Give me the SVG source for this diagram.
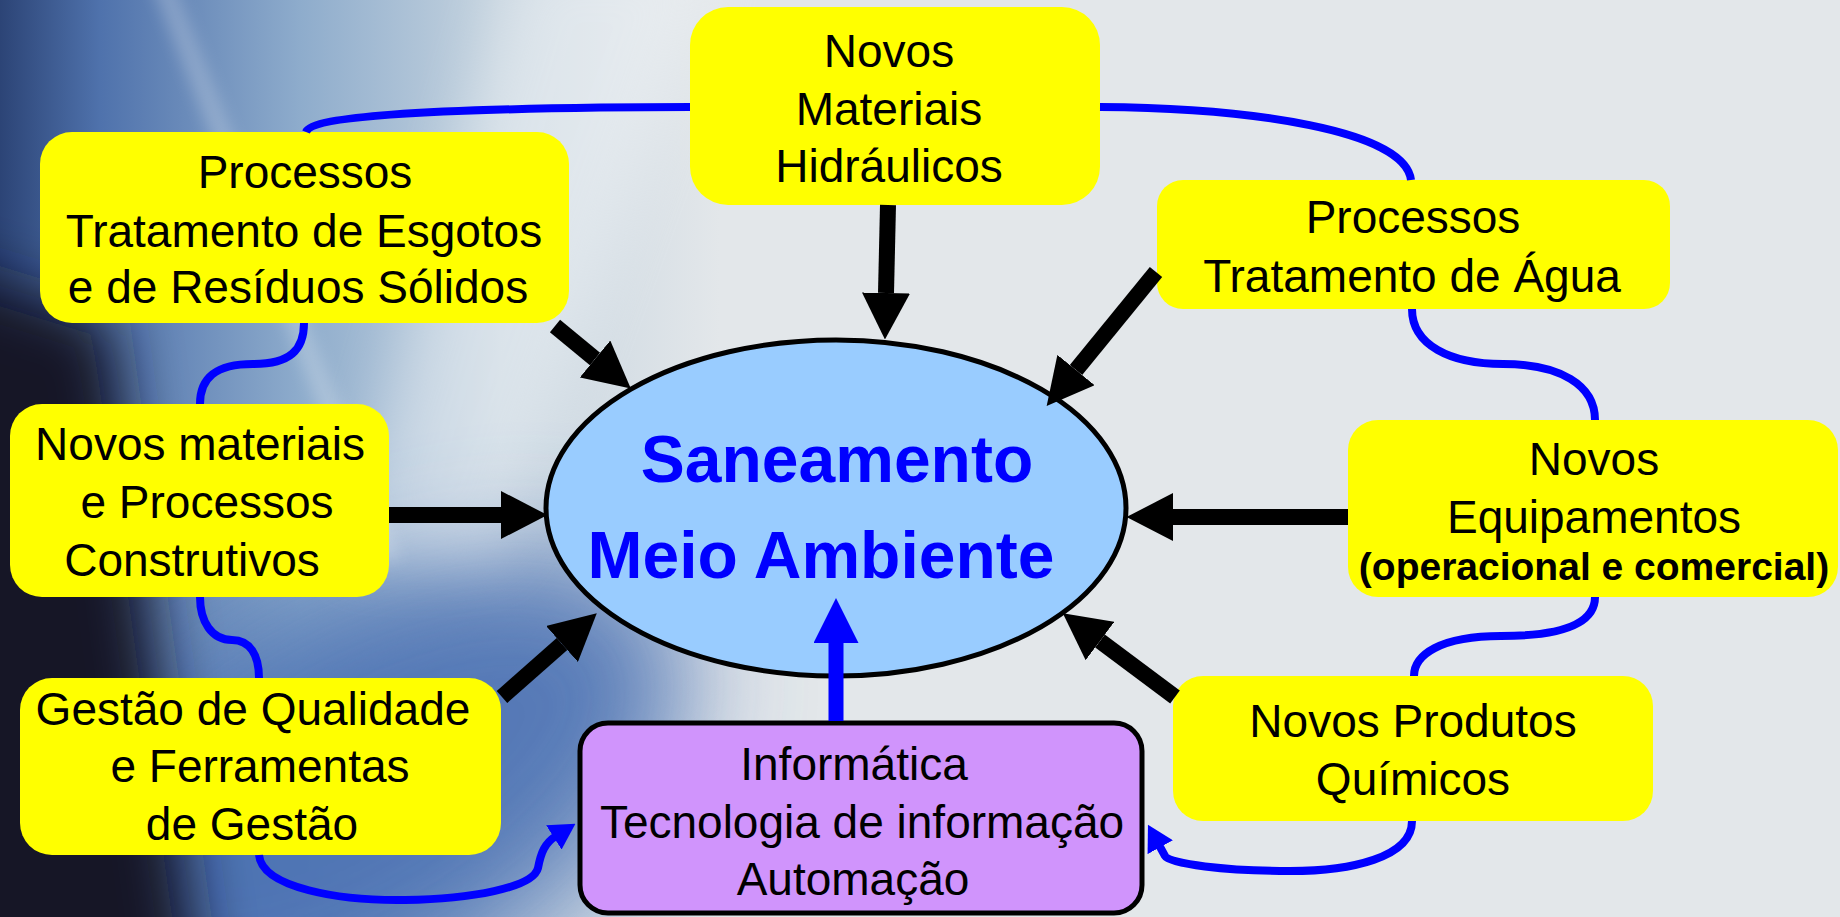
<svg xmlns="http://www.w3.org/2000/svg" width="1840" height="917" viewBox="0 0 1840 917">
<style>
  .box{fill:#ffff00}
  .t{font-family:"Liberation Sans",Arial,sans-serif;font-size:46px;fill:#000;text-anchor:middle}
  .tb{font-family:"Liberation Sans",Arial,sans-serif;font-size:39px;font-weight:bold;fill:#000;text-anchor:middle}
  .tc{font-family:"Liberation Sans",Arial,sans-serif;font-size:66px;font-weight:bold;fill:#0000ff;text-anchor:middle}
  .c{fill:none;stroke:#0000ff;stroke-width:8}
  .a{fill:none;stroke:#000;stroke-width:16}
  .ab{fill:none;stroke:#0000ff;stroke-width:15}
</style>
<defs>
  <marker id="ah" viewBox="0 0 10 10" refX="0" refY="5" markerWidth="2.9" markerHeight="3" preserveAspectRatio="none" orient="auto" markerUnits="strokeWidth">
    <path d="M0,0 L10,5 L0,10 z" fill="#000"/>
  </marker>
  <marker id="bh" viewBox="0 0 10 10" refX="0" refY="5" markerWidth="3" markerHeight="3" preserveAspectRatio="none" orient="auto" markerUnits="strokeWidth">
    <path d="M0,0 L10,5 L0,10 z" fill="#0000ff"/>
  </marker>
  <marker id="bs" viewBox="0 0 10 10" refX="1" refY="5" markerWidth="3.2" markerHeight="3.6" preserveAspectRatio="none" orient="auto" markerUnits="strokeWidth">
    <path d="M0,0 L10,5 L0,10 z" fill="#0000ff"/>
  </marker>
  <linearGradient id="bgH" x1="0" y1="0" x2="1000" y2="0" gradientUnits="userSpaceOnUse">
    <stop offset="0" stop-color="#2c4476"/>
    <stop offset="0.1" stop-color="#4f72ac"/>
    <stop offset="0.3" stop-color="#8eaccc"/>
    <stop offset="0.5" stop-color="#c6d4df"/>
    <stop offset="0.72" stop-color="#e3e7ea"/>
    <stop offset="1" stop-color="#e3e7ea"/>
  </linearGradient>
  <filter id="blur60" x="-50%" y="-50%" width="200%" height="200%"><feGaussianBlur stdDeviation="60"/></filter>
  <filter id="blur30" x="-50%" y="-50%" width="200%" height="200%"><feGaussianBlur stdDeviation="30"/></filter>
  <filter id="blur8" x="-50%" y="-50%" width="200%" height="200%"><feGaussianBlur stdDeviation="8"/></filter>
</defs>

<g id="background">
  <rect x="0" y="0" width="1840" height="917" fill="url(#bgH)"/>
  <ellipse cx="360" cy="800" rx="360" ry="190" transform="rotate(-30 360 800)" fill="#4a70b2" opacity="0.9" filter="url(#blur60)"/>
  <path d="M-150,240 L110,320 L210,1050 L-150,1050 Z" fill="#131828" filter="url(#blur30)"/>
  <path d="M520,-50 L720,-50 L500,560 L340,560 Z" fill="#ffffff" opacity="0.35" filter="url(#blur30)"/>
  <path d="M150,-20 L172,-20 L400,560 L380,560 Z" fill="#ffffff" opacity="0.22" filter="url(#blur8)"/>
</g>

<g id="n-ellipse">
  <ellipse cx="836" cy="508" rx="290" ry="168" fill="#99ccff" stroke="#000" stroke-width="5"/>
  <text class="tc" x="837" y="482">Saneamento</text>
  <text class="tc" x="821" y="578">Meio Ambiente</text>
</g>

<g id="n-materiais-hidraulicos">
  <rect class="box" x="690" y="7" width="410" height="198" rx="38"/>
  <text class="t" x="889" y="67">Novos</text>
  <text class="t" x="889" y="125">Materiais</text>
  <text class="t" x="889" y="182">Hidráulicos</text>
</g>

<g id="n-esgotos">
  <rect class="box" x="40" y="132" width="529" height="191" rx="32"/>
  <text class="t" x="305" y="188">Processos</text>
  <text class="t" x="304" y="247">Tratamento de Esgotos</text>
  <text class="t" x="298" y="303">e de Resíduos Sólidos</text>
</g>

<g id="n-construtivos">
  <rect class="box" x="10" y="404" width="379" height="193" rx="32"/>
  <text class="t" x="200" y="460">Novos materiais</text>
  <text class="t" x="207" y="518">e Processos</text>
  <text class="t" x="192" y="576">Construtivos</text>
</g>

<g id="n-gestao">
  <rect class="box" x="20" y="678" width="481" height="177" rx="32"/>
  <text class="t" x="253" y="725">Gestão de Qualidade</text>
  <text class="t" x="260" y="782">e Ferramentas</text>
  <text class="t" x="252" y="840">de Gestão</text>
</g>

<g id="n-informatica">
  <rect x="580" y="723" width="562" height="190" rx="28" fill="#d094fc" stroke="#000" stroke-width="5"/>
  <text class="t" x="854" y="780">Informática</text>
  <text class="t" x="862" y="838">Tecnologia de informação</text>
  <text class="t" x="853" y="895">Automação</text>
</g>

<g id="n-agua">
  <rect class="box" x="1157" y="180" width="513" height="129" rx="26"/>
  <text class="t" x="1413" y="233">Processos</text>
  <text class="t" x="1412" y="292">Tratamento de Água</text>
</g>

<g id="n-equipamentos">
  <rect class="box" x="1348" y="420" width="490" height="177" rx="30"/>
  <text class="t" x="1594" y="475">Novos</text>
  <text class="t" x="1594" y="533">Equipamentos</text>
  <text class="tb" x="1594" y="580">(operacional e comercial)</text>
</g>

<g id="n-quimicos">
  <rect class="box" x="1173" y="676" width="480" height="145" rx="30"/>
  <text class="t" x="1413" y="737">Novos Produtos</text>
  <text class="t" x="1413" y="795">Químicos</text>
</g>

<g id="connectors">
  <path class="c" d="M690,107 L600,107.5 C430,110 312,116 306,132"/>
  <path class="c" d="M1100,107 C1250,108 1405,130 1411,180"/>
  <path class="c" d="M304,323 C304,350 290,364 253,364 C215,364 200,378 200,404"/>
  <path class="c" d="M200,597 C200,622 212,640 232,640 C250,640 259,655 259,678"/>
  <path class="c" d="M1412,309 C1412,345 1450,364 1503,364 C1560,364 1595,385 1595,420"/>
  <path class="c" d="M1595,597 C1595,620 1570,636 1501,636 C1440,636 1414,655 1414,676"/>
  <path class="c" marker-end="url(#bs)" d="M259,855 C262,888 340,901 405,900 C470,899 533,888 538,868 C541,852 545,843 556,836"/>
  <path class="c" marker-end="url(#bs)" d="M1412,821 C1412,858 1350,871 1290,871 C1225,871 1170,864 1165,856 L1159,845"/>

  <path class="a" marker-end="url(#ah)" d="M888,205 L886,293"/>
  <path class="a" marker-end="url(#ah)" d="M555,326 L595,359"/>
  <path class="a" marker-end="url(#ah)" d="M389,515 L501,515"/>
  <path class="a" marker-end="url(#ah)" d="M502,697 L562,644"/>
  <path class="a" marker-end="url(#ah)" d="M1156,272 L1076,370"/>
  <path class="a" marker-end="url(#ah)" d="M1348,517 L1173,517"/>
  <path class="a" marker-end="url(#ah)" d="M1175,697 L1100,641"/>
  <path class="ab" marker-end="url(#bh)" d="M836,721 L836,643"/>
</g>
</svg>
